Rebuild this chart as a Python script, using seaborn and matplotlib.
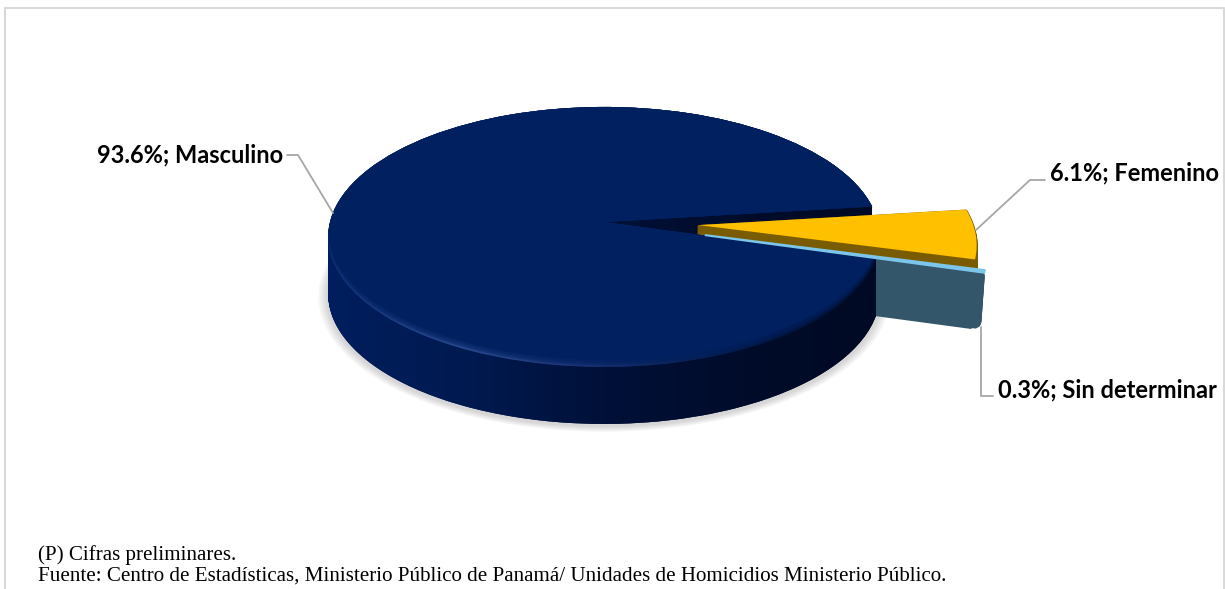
import numpy as np
import matplotlib
matplotlib.use("Agg")
import matplotlib.pyplot as plt
import seaborn as sns
from matplotlib.patches import Wedge
from matplotlib.path import Path
from matplotlib.transforms import Transform

categorias = ["Masculino", "Sin determinar", "Femenino"]
valores = [93.6, 0.3, 6.1]
separacion = [0, 0.38, 0.345]
colores = ["#002060", "#7cc6ea", "#ffc000"]
lados = ["#001340", "#34566a", "#7a5c00"]
notas = ["(P) Cifras preliminares.",
         "Fuente: Centro de Estadísticas, Ministerio Público de Panamá/ Unidades de Homicidios Ministerio Público."]

sns.set_theme(style="white")
plt.rcParams['font.family'] = ['Lato', 'DejaVu Sans']

PROF = 57  # grosor del pastel en px


# el pastel de excel va en perspectiva: el centro queda mas arriba que el de la elipse
class Perspectiva(Transform):
    input_dims = 2
    output_dims = 2
    is_separable = False

    def __init__(self, bajada=0):
        super().__init__()
        self.bajada = bajada

    def transform_non_affine(self, xy):
        xy = np.asarray(xy)
        w = 1 + 0.115 * xy[:, 1]
        return np.column_stack([604 + 274 * xy[:, 0] / w,
                                222 - 128.3 * xy[:, 1] / w + self.bajada])


fig = plt.figure(figsize=(12.25, 5.89), dpi=100)
ax = fig.add_axes([0, 0, 1, 1])

cunas, _ = ax.pie(valores, explode=separacion, colors=colores, startangle=7,
                  radius=1, wedgeprops={"linewidth": 0})


def capa(cuna, bajada, color, z, alpha=None, r=None):
    w = Wedge(cuna.center, r or cuna.r, cuna.theta1, cuna.theta2, facecolor=color,
              edgecolor=color, linewidth=1.5, joinstyle="round", alpha=alpha, zorder=z)
    ax.add_patch(w)
    w.set_transform(Perspectiva(bajada) + ax.transData)
    return w


def silueta(t1, t2, desde, hasta):
    trozos = []
    for d in range(desde, hasta + 1):
        trozos.append(Perspectiva(d).transform_path(Wedge((0, 0), 1, t1, t2).get_path()))
    return Path.make_compound_path(*trozos)


def degradado(camino, tonos, z):
    cmap = sns.blend_palette(tonos, as_cmap=True)
    im = ax.imshow(np.linspace(0, 1, 256).reshape(1, -1), cmap=cmap, aspect="auto",
                   extent=(325, 885, 440, 100), zorder=z)
    im.set_clip_path(camino, ax.transData)


principal, teal, amarillo = cunas

# sombra suave en el suelo
for r in [1.035, 1.028, 1.021, 1.014, 1.007]:
    w = Wedge((0, 0), r, 0, 360, facecolor="#808080", linewidth=0, alpha=0.07, zorder=1)
    ax.add_patch(w)
    w.set_transform(Perspectiva(PROF + 2) + ax.transData)

tonos_lado = ["#001e5e", "#001a50", "#001038", "#000c2a", "#000a24"]
t1, t2 = principal.theta1, principal.theta2

# pared interior del corte (queda detras de las porciones separadas)
degradado(silueta(t1, t2, 1, PROF), tonos_lado, 2)

for d in range(1, PROF + 1):
    capa(amarillo, d, lados[2], 3)
for d in range(1, PROF + 1):
    # esquinas redondeadas arriba y abajo del bloque
    borde = max(6 - d, d - (PROF - 6), 0) / 6
    r_capa = teal.r - 0.002 - 0.03 * (1 - np.sqrt(1 - borde ** 2)) - 0.00025 * d
    capa(teal, d, lados[1], 4, r=r_capa)

# frente del pastel, tapa las porciones separadas
degradado(silueta(180, t2, 1, PROF), tonos_lado, 5)

principal.set_zorder(7)
teal.set_zorder(8)
amarillo.set_zorder(9)
for cuna in cunas:
    cuna.set_transform(Perspectiva() + ax.transData)
teal.set_edgecolor(colores[1])
teal.set_linewidth(1.5)
teal.set_joinstyle("round")

# bisel de la cara superior: claro a la izquierda, casi negro a la derecha
degradado(silueta(t1, t2, 0, 0),
          ["#12337a", "#2a4a90", "#162f6c", "#001a4a", "#000a24"], 7.1)
for k, a, z in [(7, 1, 7.2), (5, 0.4, 7.3), (3, 0.4, 7.4), (1.5, 0.4, 7.5)]:
    w = Wedge((0, 0), 1, 0, 360, facecolor=colores[0], linewidth=0, alpha=a, zorder=z)
    ax.add_patch(w)
    w.set_transform(Perspectiva(-k) + ax.transData)
    w.set_clip_path(principal)

# lineas guia
gris = "#a6a6a6"
ax.plot([287, 298, 333], [155, 155, 213], color=gris, lw=1.3, zorder=10)
ax.plot([976, 1030, 1045], [230, 180, 180], color=gris, lw=1.3, zorder=10)
ax.plot([981, 981, 993], [327, 396, 396], color=gris, lw=1.3, zorder=10)

etiquetas = {c: f"{v}%; {c}" for c, v in zip(categorias, valores)}
ax.text(283, 155, etiquetas["Masculino"], ha="right", va="center", fontsize=17, fontweight="bold", color="black")
ax.text(1050, 173, etiquetas["Femenino"], ha="left", va="center", fontsize=17, fontweight="bold", color="black")
ax.text(998, 390, etiquetas["Sin determinar"], ha="left", va="center", fontsize=17, fontweight="bold", color="black")

ax.text(38, 555, notas[0], ha="left", va="center", fontsize=15.15, family="Liberation Serif", color="black")
ax.text(38, 576, notas[1], ha="left", va="center", fontsize=15.15, family="Liberation Serif", color="black")

# borde del grafico
ax.plot([4.5, 4.5, 1224, 1224], [589, 8, 8, 589], color="#d9d9d9", lw=1.5, zorder=0)

ax.set_aspect("auto")
ax.set_xlim(0, 1225)
ax.set_ylim(589, 0)
ax.axis("off")

fig.savefig("out.png", dpi=100, facecolor="white")
